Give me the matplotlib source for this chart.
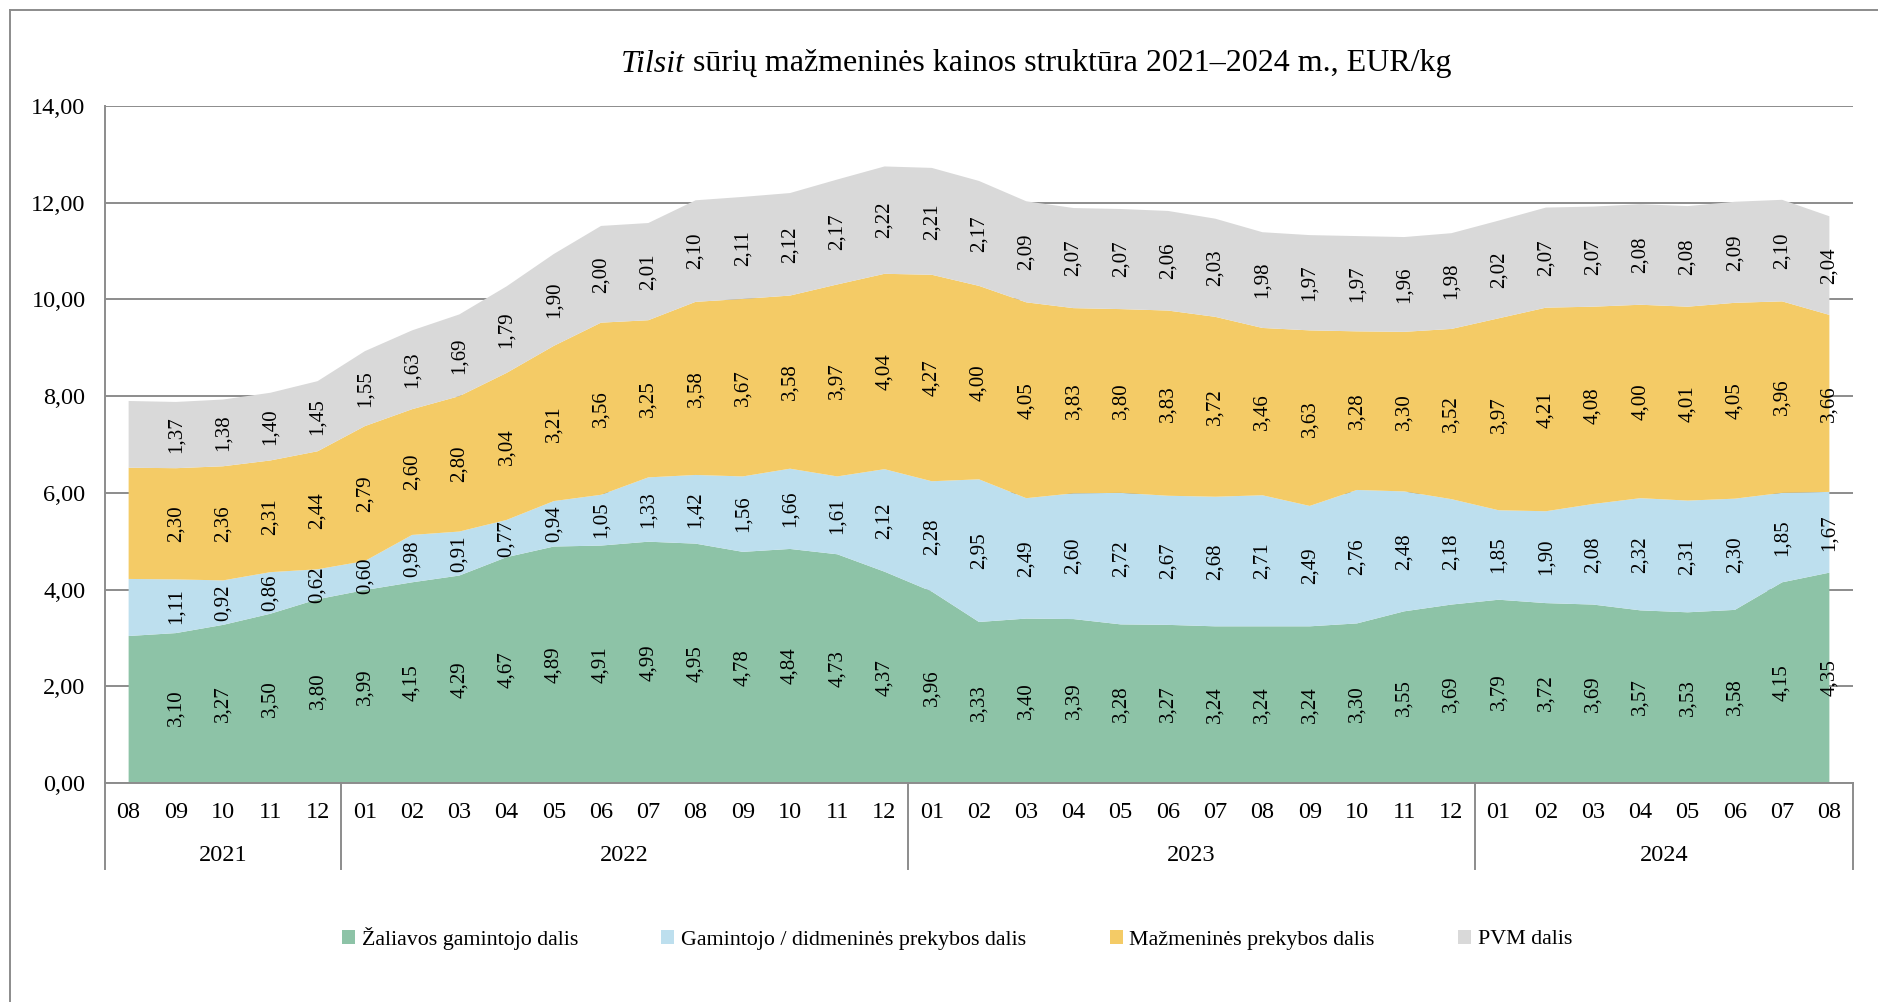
import matplotlib
matplotlib.use("Agg")
import matplotlib.pyplot as plt
import numpy as np
from matplotlib.patches import Patch
from matplotlib.lines import Line2D

plt.rcParams["font.family"] = ["Liberation Serif", "DejaVu Serif"]

# 2021-08 ... 2024-08
months = ["08", "09", "10", "11", "12",
          "01", "02", "03", "04", "05", "06", "07", "08", "09", "10", "11", "12",
          "01", "02", "03", "04", "05", "06", "07", "08", "09", "10", "11", "12",
          "01", "02", "03", "04", "05", "06", "07", "08"]
years = ["2021", "2022", "2023", "2024"]
year_counts = [5, 12, 12, 8]

raw = [3.04, 3.10, 3.27, 3.50, 3.80,
       3.99, 4.15, 4.29, 4.67, 4.89, 4.91, 4.99, 4.95, 4.78, 4.84, 4.73, 4.37,
       3.96, 3.33, 3.40, 3.39, 3.28, 3.27, 3.24, 3.24, 3.24, 3.30, 3.55, 3.69,
       3.79, 3.72, 3.69, 3.57, 3.53, 3.58, 4.15, 4.35]
wholesale = [1.18, 1.11, 0.92, 0.86, 0.62,
             0.60, 0.98, 0.91, 0.77, 0.94, 1.05, 1.33, 1.42, 1.56, 1.66, 1.61, 2.12,
             2.28, 2.95, 2.49, 2.60, 2.72, 2.67, 2.68, 2.71, 2.49, 2.76, 2.48, 2.18,
             1.85, 1.90, 2.08, 2.32, 2.31, 2.30, 1.85, 1.67]
retail = [2.30, 2.30, 2.36, 2.31, 2.44,
          2.79, 2.60, 2.80, 3.04, 3.21, 3.56, 3.25, 3.58, 3.67, 3.58, 3.97, 4.04,
          4.27, 4.00, 4.05, 3.83, 3.80, 3.83, 3.72, 3.46, 3.63, 3.28, 3.30, 3.52,
          3.97, 4.21, 4.08, 4.00, 4.01, 4.05, 3.96, 3.66]
vat = [1.38, 1.37, 1.38, 1.40, 1.45,
       1.55, 1.63, 1.69, 1.79, 1.90, 2.00, 2.01, 2.10, 2.11, 2.12, 2.17, 2.22,
       2.21, 2.17, 2.09, 2.07, 2.07, 2.06, 2.03, 1.98, 1.97, 1.97, 1.96, 1.98,
       2.02, 2.07, 2.07, 2.08, 2.08, 2.09, 2.10, 2.04]

series_names = ["Žaliavos gamintojo dalis",
                "Gamintojo / didmeninės prekybos dalis",
                "Mažmeninės prekybos dalis",
                "PVM dalis"]
colors = ["#8DC3A7", "#BDDFEE", "#F4CB66", "#D9D9D9"]
grid_col = "#8C8C8C"

W, H = 1878, 1002
fig = plt.figure(figsize=(W / 100, H / 100), dpi=100)
ax = fig.add_axes([105 / W, 1 - 783 / H, (1853 - 105) / W, (783 - 106) / H])

x = np.arange(len(months))
data = np.array([raw, wholesale, retail, vat])
ax.stackplot(x, data, colors=colors, linewidth=0, zorder=2)

ax.set_xlim(-0.5, len(months) - 0.5)
ax.set_ylim(0, 14)
ax.set_yticks(np.arange(0, 15, 2))
ax.set_yticklabels([f"{v:.2f}".replace(".", ",") for v in np.arange(0, 15, 2)],
                   fontsize=17.5)
ax.tick_params(axis="y", length=0, pad=14)
ax.grid(axis="y", color=grid_col, linewidth=1.4, zorder=0)
ax.set_axisbelow(True)
ax.set_xticks([])
for s in ["top", "right"]:
    ax.spines[s].set_visible(False)
for s in ["left", "bottom"]:
    ax.spines[s].set_color(grid_col)
    ax.spines[s].set_linewidth(1.4)

# data labels, centred in each band
bottoms = np.cumsum(data, axis=0) - data
for vals, bot in zip(data, bottoms):
    for i in range(1, len(months)):
        ax.text(x[i], bot[i] + vals[i] / 2, f"{vals[i]:.2f}".replace(".", ","),
                rotation=90, ha="center", va="center", fontsize=15, zorder=3)

# two-level category axis
tr = ax.get_xaxis_transform()
for i, m in enumerate(months):
    ax.text(i, -0.043, m, transform=tr, ha="center", va="center", fontsize=17.5)
start = 0
edges = [-0.5]
for y, n in zip(years, year_counts):
    ax.text(start + (n - 1) / 2, -0.107, y, transform=tr, ha="center", va="center",
            fontsize=17.5)
    start += n
    edges.append(start - 0.5)
for e in edges:
    ax.add_line(Line2D([e, e], [0, -0.127], transform=tr, color=grid_col,
                       linewidth=1.4, clip_on=False))

# title: italic cheese name + regular rest
t1 = fig.text(621 / W, 1 - 64 / H, "Tilsit", fontsize=23, style="italic",
              ha="left", va="center")
fig.canvas.draw()
ax.annotate(" sūrių mažmeninės kainos struktūra 2021–2024 m., EUR/kg",
            xy=(1, 0), xycoords=t1, ha="left", va="bottom", fontsize=23,
            annotation_clip=False)

handles = [Patch(facecolor=c, edgecolor="none") for c in colors]
fig.legend(handles, series_names, loc="center", ncol=4,
           bbox_to_anchor=(957 / W, 1 - 938 / H), frameon=False, fontsize=15.8,
           handlelength=0.6, handleheight=0.6, handletextpad=0.3,
           columnspacing=3.8)

# outer chart frame (left and top edges visible)
fig.add_artist(Line2D([10 / W, 10 / W], [0, 1 - 10 / H], color=grid_col,
                      linewidth=1.4, transform=fig.transFigure))
fig.add_artist(Line2D([10 / W, 1], [1 - 10 / H, 1 - 10 / H], color=grid_col,
                      linewidth=1.4, transform=fig.transFigure))

fig.savefig("out.png", dpi=100)
